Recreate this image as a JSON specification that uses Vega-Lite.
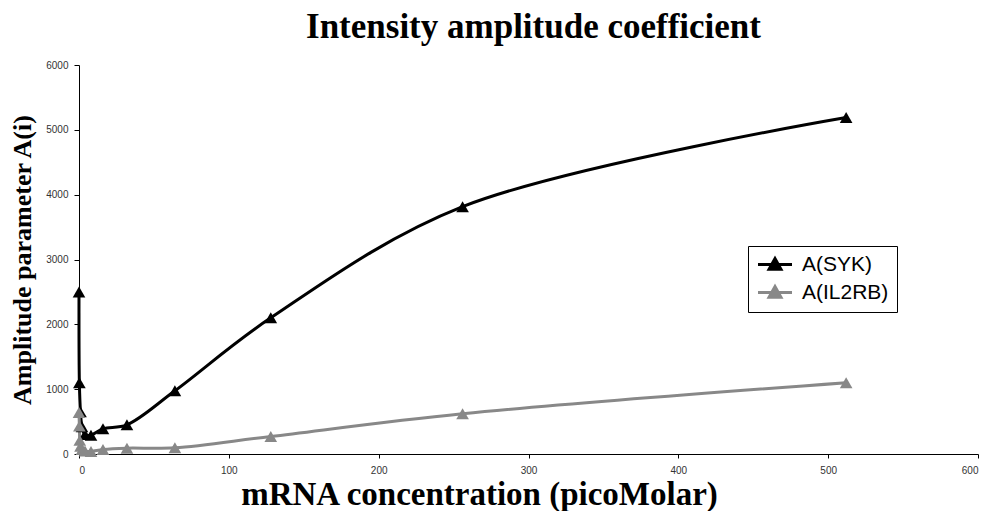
{
  "$schema": "https://vega.github.io/schema/vega-lite/v6.json",
  "autosize": "none",
  "width": 899,
  "height": 389,
  "padding": {"left": 79, "top": 65, "right": 12, "bottom": 57},
  "background": "white",
  "title": {
    "text": "Intensity amplitude coefficient",
    "font": "Liberation Serif",
    "fontSize": 35,
    "fontWeight": "bold",
    "color": "black",
    "anchor": "middle",
    "dx": 5,
    "offset": 15
  },
  "data": {
    "values": [
      {"conc": 0, "value": 2500, "series": "A(SYK)"},
      {"conc": 0.25, "value": 1100, "series": "A(SYK)"},
      {"conc": 1, "value": 650, "series": "A(SYK)"},
      {"conc": 2, "value": 420, "series": "A(SYK)"},
      {"conc": 4, "value": 300, "series": "A(SYK)"},
      {"conc": 8, "value": 290, "series": "A(SYK)"},
      {"conc": 16, "value": 390, "series": "A(SYK)"},
      {"conc": 32, "value": 450, "series": "A(SYK)"},
      {"conc": 64, "value": 975, "series": "A(SYK)"},
      {"conc": 128, "value": 2100, "series": "A(SYK)"},
      {"conc": 256, "value": 3815, "series": "A(SYK)"},
      {"conc": 512, "value": 5190, "series": "A(SYK)"},
      {"conc": 0, "value": 640, "series": "A(IL2RB)"},
      {"conc": 0.25, "value": 430, "series": "A(IL2RB)"},
      {"conc": 0.5, "value": 210, "series": "A(IL2RB)"},
      {"conc": 1, "value": 120, "series": "A(IL2RB)"},
      {"conc": 2, "value": 70, "series": "A(IL2RB)"},
      {"conc": 4, "value": 45, "series": "A(IL2RB)"},
      {"conc": 8, "value": 40, "series": "A(IL2RB)"},
      {"conc": 16, "value": 70, "series": "A(IL2RB)"},
      {"conc": 32, "value": 90, "series": "A(IL2RB)"},
      {"conc": 64, "value": 95, "series": "A(IL2RB)"},
      {"conc": 128, "value": 270, "series": "A(IL2RB)"},
      {"conc": 256, "value": 620, "series": "A(IL2RB)"},
      {"conc": 512, "value": 1100, "series": "A(IL2RB)"}
    ]
  },
  "encoding": {
    "x": {
      "field": "conc",
      "type": "quantitative",
      "scale": {"domain": [0, 600], "nice": false, "zero": true},
      "axis": {
        "title": "mRNA concentration (picoMolar)",
        "values": [0, 100, 200, 300, 400, 500, 600],
        "format": "d",
        "grid": false,
        "domainColor": "black",
        "domainWidth": 1,
        "tickColor": "black",
        "tickSize": 4,
        "labelFont": "Liberation Sans",
        "labelFontSize": 10,
        "labelColor": "#333333",
        "labelPadding": 7,
        "titleFont": "Liberation Serif",
        "titleFontSize": 33,
        "titleFontWeight": "bold",
        "titleColor": "black",
        "titleX": 400,
        "titleAlign": "center",
        "titlePadding": 3
      }
    },
    "y": {
      "field": "value",
      "type": "quantitative",
      "scale": {"domain": [0, 6000], "nice": false},
      "axis": {
        "title": "Amplitude parameter A(i)",
        "values": [0, 1000, 2000, 3000, 4000, 5000, 6000],
        "format": "d",
        "grid": false,
        "domainColor": "black",
        "domainWidth": 1,
        "tickColor": "black",
        "tickSize": 5,
        "labelFont": "Liberation Sans",
        "labelFontSize": 10,
        "labelColor": "#333333",
        "labelPadding": 6,
        "titleFont": "Liberation Serif",
        "titleFontSize": 26,
        "titleFontWeight": "bold",
        "titleColor": "black",
        "titlePadding": 10
      }
    },
    "color": {
      "field": "series",
      "type": "nominal",
      "scale": {"domain": ["A(SYK)", "A(IL2RB)"], "range": ["#000000", "#888888"]},
      "legend": {
        "title": null,
        "orient": "none",
        "legendX": 669,
        "legendY": 181,
        "strokeColor": "black",
        "fillColor": "white",
        "padding": 8,
        "rowPadding": 4,
        "labelFont": "Liberation Sans",
        "labelFontSize": 21,
        "labelColor": "black",
        "labelOffset": 25,
        "symbolType": "M-1,0H3M0.3,0.55L1,-0.7L1.7,0.55Z",
        "symbolSize": 289,
        "symbolStrokeWidth": 3,
        "encode": {
          "symbols": {
            "update": {
              "stroke": {"scale": "color", "field": "value"},
              "fill": {"scale": "color", "field": "value"},
              "strokeWidth": {"value": 3},
              "opacity": {"value": 1}
            }
          }
        }
      }
    }
  },
  "layer": [
    {
      "mark": {"type": "line", "interpolate": "catmull-rom", "strokeWidth": 3}
    },
    {
      "mark": {"type": "point", "shape": "triangle-up", "filled": true, "size": 160, "opacity": 1}
    }
  ],
  "config": {
    "view": {"stroke": null}
  }
}
